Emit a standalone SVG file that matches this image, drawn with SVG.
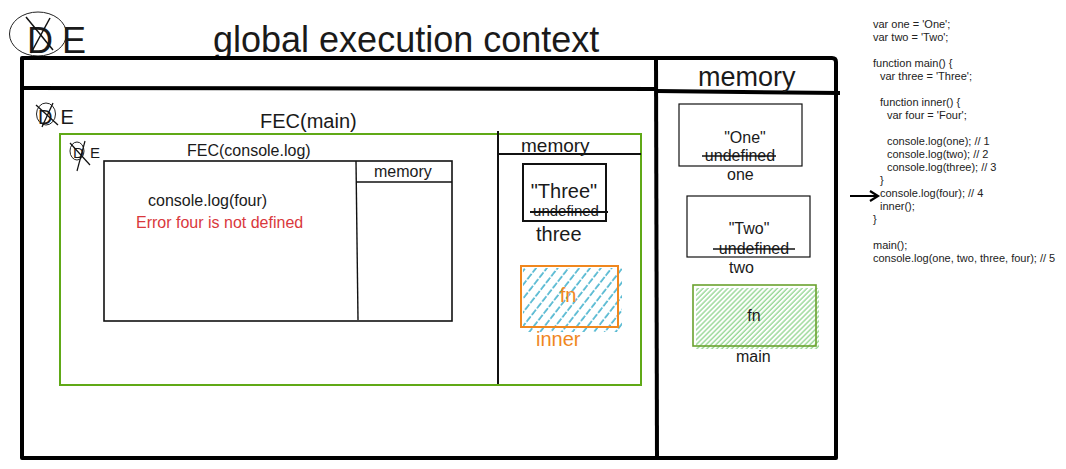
<svg xmlns="http://www.w3.org/2000/svg" width="1066" height="469" viewBox="0 0 1066 469">
<style>
  text { font-family: "Liberation Sans", Arial, sans-serif; fill: #1a1a1a; }
  .frame { fill: none; stroke: #000; stroke-width: 4; stroke-linejoin: round; }
  .strike { stroke: #111; stroke-width: 1.6; }
  .code { font-size: 11px; fill: #222; }
  .orange { fill: #F0871E; }
  .red { fill: #D9383C; }
</style>
<defs>
  <pattern id="hatchTeal" patternUnits="userSpaceOnUse" width="8.5" height="8.5" patternTransform="rotate(38)">
    <line x1="1" y1="0" x2="1" y2="8.5" stroke="#1AA0C2" stroke-width="1.3" stroke-dasharray="6 1.5"/>
  </pattern>
  <pattern id="hatchGreen" patternUnits="userSpaceOnUse" width="3.5" height="3.5" patternTransform="rotate(45)">
    <line x1="1" y1="0" x2="1" y2="3.5" stroke="#86D184" stroke-width="1.2"/>
  </pattern>
  <marker id="arrowOpen" markerWidth="12" markerHeight="12" refX="9" refY="6" orient="auto" markerUnits="userSpaceOnUse">
    <polyline points="1,1 9,6 1,11" fill="none" stroke="#000" stroke-width="2.2"/>
  </marker>
</defs>

<!-- Title -->
<g id="title">
  <text x="213" y="52" font-size="36">global execution context</text>
</g>

<!-- DE markers -->
<g id="de-global">
  <ellipse cx="38" cy="34" rx="28.5" ry="22" fill="none" stroke="#222" stroke-width="1"/>
  <text x="27" y="53" font-size="36">D</text>
  <text x="62" y="53" font-size="36">E</text>
  <line x1="26" y1="17" x2="53" y2="50" stroke="#111" stroke-width="1.5"/>
  <line x1="50" y1="18" x2="31" y2="53" stroke="#111" stroke-width="1.5"/>
</g>

<!-- Global execution context frame -->
<g id="gec-frame">
  <path class="frame" d="M22,58 H832 Q836,58 836,62 V458 H22 Z"/>
  <line x1="22" y1="88" x2="656" y2="89" stroke="#000" stroke-width="4"/>
  <line x1="656" y1="91" x2="840" y2="93" stroke="#000" stroke-width="4"/>
  <line x1="656" y1="58" x2="657" y2="458" stroke="#000" stroke-width="4"/>
</g>

<g id="de-main">
  <ellipse cx="46" cy="114" rx="9.5" ry="11" fill="none" stroke="#222" stroke-width="1"/>
  <text x="38" y="124" font-size="20">D</text>
  <text x="60.5" y="124" font-size="20">E</text>
  <line x1="36" y1="105" x2="58" y2="125" stroke="#111" stroke-width="1.3"/>
  <line x1="53" y1="103" x2="42" y2="127" stroke="#111" stroke-width="1.3"/>
</g>

<!-- FEC(main) -->
<g id="fec-main">
  <text x="260" y="128" font-size="20">FEC(main)</text>
  <rect x="60" y="134" width="581" height="251" fill="none" stroke="#60A917" stroke-width="2"/>
  <line x1="498" y1="131" x2="498" y2="384" stroke="#111" stroke-width="2"/>
  <line x1="498" y1="154" x2="641" y2="154" stroke="#111" stroke-width="2"/>
  <text x="521" y="152" font-size="19">memory</text>
</g>

<g id="de-console">
  <ellipse cx="77" cy="151" rx="7" ry="9" fill="none" stroke="#222" stroke-width="1"/>
  <text x="73" y="158" font-size="15">D</text>
  <text x="90" y="158" font-size="15">E</text>
  <line x1="70" y1="143" x2="90" y2="165" stroke="#111" stroke-width="1.2"/>
  <line x1="85" y1="141" x2="77" y2="171" stroke="#111" stroke-width="1.2"/>
</g>

<!-- FEC(console.log) -->
<g id="fec-console">
  <text x="187" y="156" font-size="16">FEC(console.log)</text>
  <rect x="104" y="161" width="348" height="160" fill="none" stroke="#111" stroke-width="1.6"/>
  <line x1="356" y1="161" x2="358" y2="320" stroke="#111" stroke-width="1.4"/>
  <line x1="356" y1="182" x2="452" y2="182" stroke="#111" stroke-width="1.4"/>
  <text x="374" y="177" font-size="16">memory</text>
  <text x="148" y="206" font-size="16">console.log(four)</text>
  <text class="red" x="136" y="228" font-size="16">Error four is not defined</text>
</g>

<!-- main memory: three -->
<g id="mem-three">
  <rect x="523" y="164" width="83" height="57" fill="#fff" stroke="#111" stroke-width="2"/>
  <text x="564" y="198" font-size="20" text-anchor="middle">"Three"</text>
  <text x="566" y="216" font-size="15" text-anchor="middle">undefined</text>
  <line x1="530" y1="212" x2="608" y2="212" stroke="#111" stroke-width="2"/>
  <text x="536" y="241" font-size="20">three</text>
</g>

<!-- main memory: inner fn -->
<g id="mem-inner">
  <rect x="523" y="268" width="99" height="64" fill="url(#hatchTeal)"/>
  <rect x="521" y="266" width="97" height="61" fill="none" stroke="#F0871E" stroke-width="2"/>
  <text class="orange" x="568" y="302" font-size="20" text-anchor="middle">fn</text>
  <text class="orange" x="536" y="346" font-size="20">inner</text>
</g>

<!-- global memory -->
<g id="gec-memory">
  <text x="698" y="86" font-size="27">memory</text>
</g>

<g id="mem-one">
  <rect x="679" y="104" width="123" height="62" fill="#fff" stroke="#111" stroke-width="1.2"/>
  <text x="745" y="143" font-size="16" text-anchor="middle">"One"</text>
  <text x="740" y="161" font-size="16" text-anchor="middle">undefined</text>
  <line x1="702" y1="156" x2="776" y2="156" class="strike"/>
  <text x="727" y="180" font-size="16">one</text>
</g>

<g id="mem-two">
  <rect x="687" y="196" width="123" height="61" fill="#fff" stroke="#111" stroke-width="1.2"/>
  <text x="749" y="234" font-size="16" text-anchor="middle">"Two"</text>
  <text x="754" y="254" font-size="16" text-anchor="middle">undefined</text>
  <line x1="713" y1="249" x2="795" y2="249" class="strike"/>
  <text x="729" y="273" font-size="16">two</text>
</g>

<g id="mem-main">
  <rect x="696" y="288" width="123" height="61" fill="url(#hatchGreen)"/>
  <rect x="693" y="285" width="123" height="61" fill="none" stroke="#6AA22E" stroke-width="1.6"/>
  <text x="754" y="321" font-size="16" text-anchor="middle">fn</text>
  <text x="736" y="362" font-size="16">main</text>
</g>

<!-- source code -->
<g id="code">
  <text class="code" x="873" y="28">var one = 'One';</text>
  <text class="code" x="873" y="41">var two = 'Two';</text>
  <text class="code" x="873" y="67">function main() {</text>
  <text class="code" x="880" y="80">var three = 'Three';</text>
  <text class="code" x="880" y="106">function inner() {</text>
  <text class="code" x="887" y="119">var four = 'Four';</text>
  <text class="code" x="887" y="145">console.log(one); // 1</text>
  <text class="code" x="887" y="158">console.log(two); // 2</text>
  <text class="code" x="887" y="171">console.log(three); // 3</text>
  <text class="code" x="880" y="184">}</text>
  <text class="code" x="880" y="197">console.log(four); // 4</text>
  <text class="code" x="880" y="210">inner();</text>
  <text class="code" x="873" y="223">}</text>
  <text class="code" x="873" y="249">main();</text>
  <text class="code" x="873" y="262">console.log(one, two, three, four); // 5</text>
</g>

<!-- connectors -->
<g id="connectors">
  <line x1="850" y1="196" x2="878" y2="196" stroke="#000" stroke-width="2" marker-end="url(#arrowOpen)"/>
</g>
</svg>
